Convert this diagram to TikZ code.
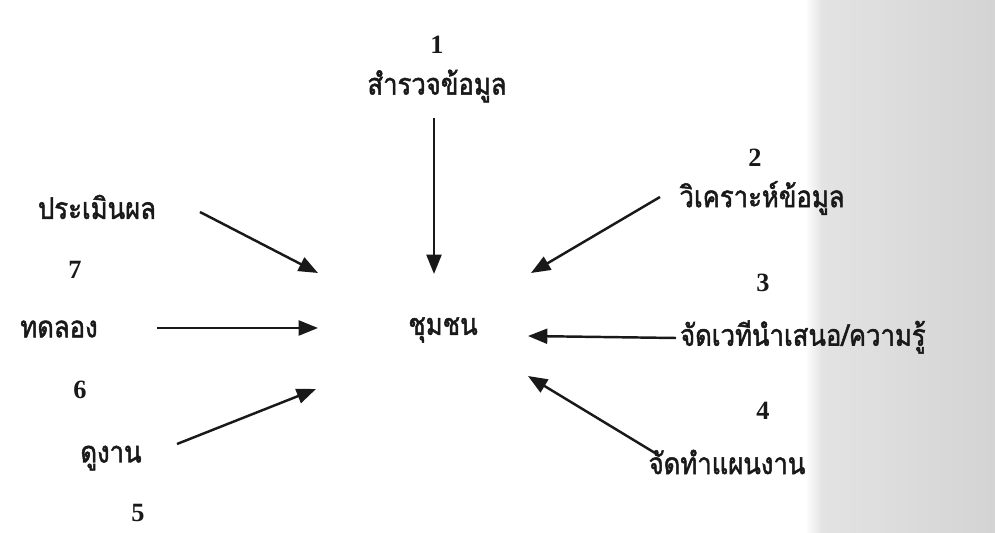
\documentclass[tikz,border=0pt]{standalone}
\usepackage{fontspec}
\newfontfamily\thaifont[Script=Thai,FakeStretch=0.86,FakeBold=1.6]{Loma}
\newfontfamily\numfont{Liberation Serif}
\usetikzlibrary{arrows.meta}
\tikzset{
  lbl/.style={font=\thaifont\fontsize{17}{20}\selectfont, inner sep=1pt, text=black!90},
  num/.style={font=\numfont\bfseries\fontsize{15}{17}\selectfont, inner sep=1pt, text=black!90},
  arr/.style={line width=1.4pt, draw=black!90, -{Triangle[length=11pt,width=8.5pt]}}
}
\begin{document}
\begin{tikzpicture}[x=0.02cm,y=-0.02cm]
\useasboundingbox (0,0) rectangle (995,533);
\fill[white] (0,0) rectangle (995,533);
\shade[left color=white, right color=black!11] (805,0) rectangle (822,533);
\shade[left color=black!11, right color=black!17] (822,0) rectangle (995,533);
% center
\node[lbl] (c) at (443,330) {ชุมชน};
% top
\node[num] (n1) at (437,45) {1};
\node[lbl] (t1) at (437,86) {สำรวจข้อมูล};
% right
\node[num] (n2) at (755,158) {2};
\node[lbl] (t2) at (762,198) {วิเคราะห์ข้อมูล};
\node[num] (n3) at (763,283) {3};
\node[lbl, anchor=west] (t3) at (678,337) {จัดเวทีนำเสนอ/ความรู้};
\node[num] (n4) at (763,411) {4};
\node[lbl] (t4) at (727,462) {จัดทำแผนงาน};
% left
\node[lbl] (t7) at (97,207) {ประเมินผล};
\node[num] (n7) at (75,270) {7};
\node[lbl] (t6) at (59,329) {ทดลอง};
\node[num] (n6) at (80,390) {6};
\node[lbl] (t5) at (111,458) {ดูงาน};
\node[num] (n5) at (138,513) {5};
% arrow endpoints
\coordinate (s1) at (434,118); \coordinate (e1) at (434,274);
\coordinate (s2) at (660,197); \coordinate (e2) at (531,273);
\coordinate (s3) at (676,338); \coordinate (e3) at (528,336);
\coordinate (s4) at (660,456); \coordinate (e4) at (528,376);
\coordinate (s7) at (200,212); \coordinate (e7) at (318,273);
\coordinate (s6) at (157,328); \coordinate (e6) at (318,328);
\coordinate (s5) at (177,444); \coordinate (e5) at (316,389);
\draw[arr] (s1) -- (e1);
\draw[arr] (s2) -- (e2);
\draw[arr] (s3) -- (e3);
\draw[arr] (s4) -- (e4);
\draw[arr] (s7) -- (e7);
\draw[arr] (s6) -- (e6);
\draw[arr] (s5) -- (e5);
\end{tikzpicture}
\end{document}
